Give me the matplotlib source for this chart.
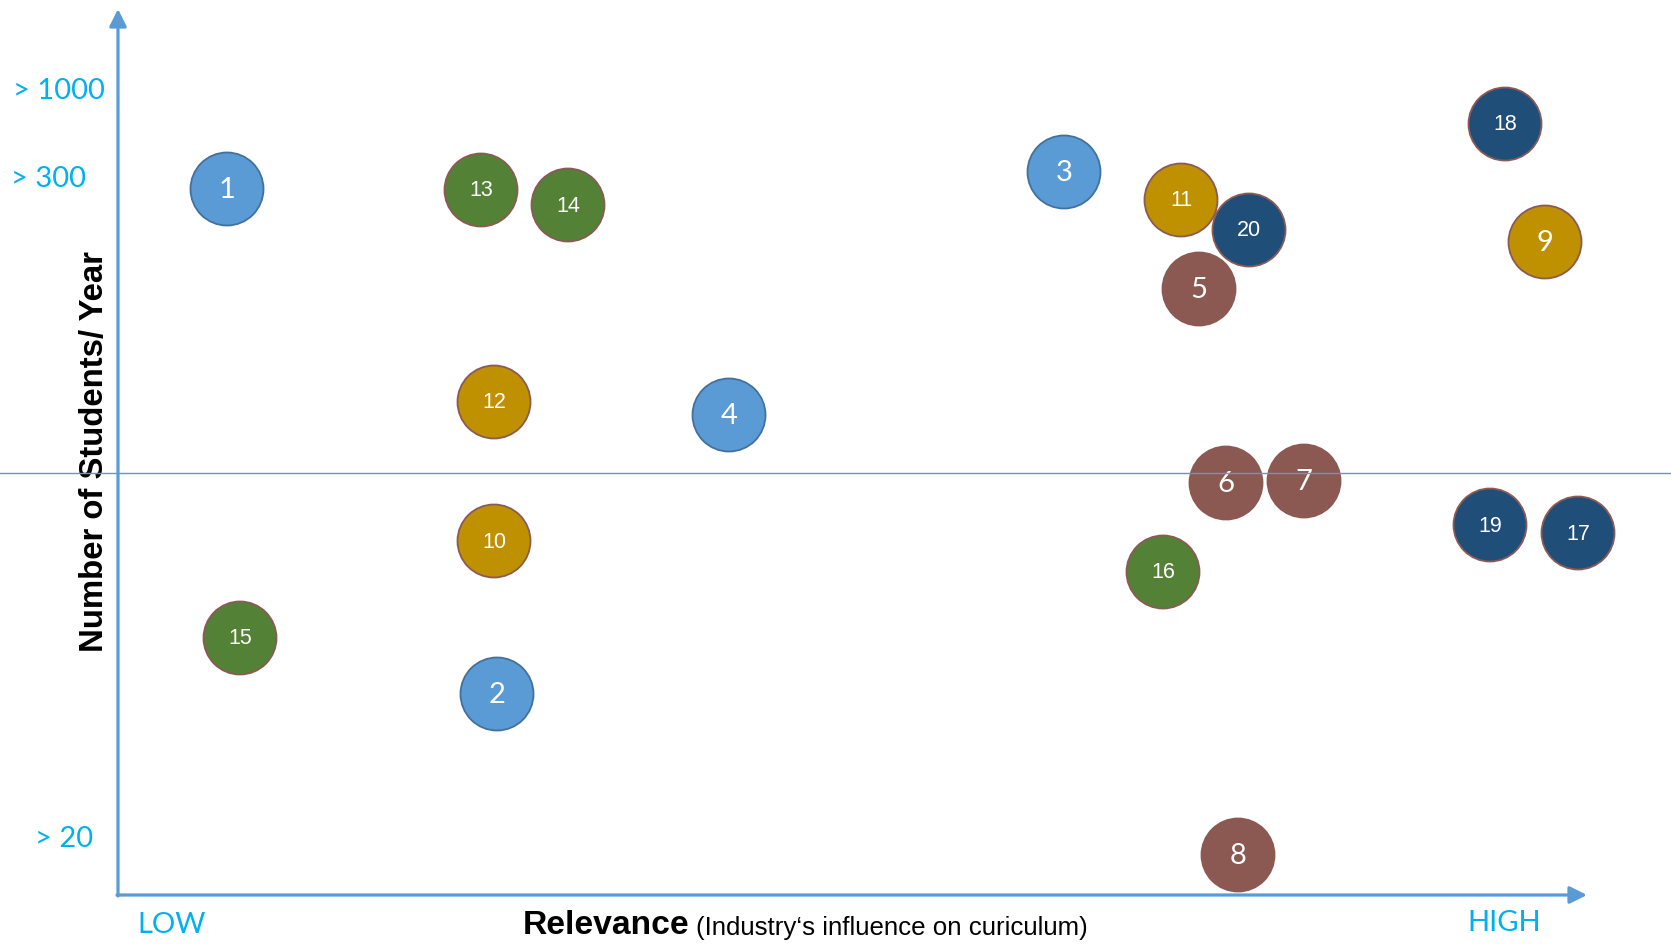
import matplotlib
import matplotlib.pyplot as plt
from matplotlib.patches import Circle

matplotlib.use("agg")

# bubble data (positions on the chart plane, 0..1671 x 0..944, y downwards)
ids = [1, 2, 3, 4, 5, 6, 7, 8, 9, 10, 11, 12, 13, 14, 15, 16, 17, 18, 19, 20]
relevance = [227, 497, 1064, 729, 1199, 1226, 1304, 1238, 1545, 494,
             1181, 494, 481, 568, 240, 1163, 1578, 1505, 1490, 1249]
students = [189, 694, 172, 415, 289, 483, 481, 855, 242, 541,
            200, 402, 190, 205, 638, 572, 533, 124, 525, 230]
groups = ["blue"] * 4 + ["brown"] * 4 + ["gold"] * 4 + ["green"] * 4 + ["navy"] * 4

fills = {"blue": "#5B9BD5", "brown": "#8B5852", "gold": "#BF9000",
         "green": "#538135", "navy": "#1F4E79"}
edges = {"blue": "#41719C", "brown": "#8B5852", "gold": "#8B5A55",
         "green": "#8B5A55", "navy": "#8B5A55"}

y_levels = ["> 1000", "> 300", "> 20"]
y_level_pos = [(13, 91), (11, 179), (35, 839)]
x_levels = ["LOW", "HIGH"]
x_level_pos = [(137, 925), (1467, 923)]

AXIS = "#5B9BD5"
CYAN = "#00B0F0"
RADIUS = 36.5

fig = plt.figure(figsize=(16.71, 9.44), dpi=100)
ax = fig.add_axes([0, 0, 1, 1])
ax.set_xlim(0, 1671)
ax.set_ylim(944, 0)
ax.set_aspect("equal")
ax.axis("off")

for n, x, y, g in zip(ids, relevance, students, groups):
    ax.add_patch(Circle((x, y), RADIUS, facecolor=fills[g], edgecolor=edges[g],
                        lw=1.3, zorder=3))
    if n < 10:
        ax.text(x, y + 1, str(n), color="white", fontsize=21, family="Lato",
                ha="center", va="center", zorder=4)
    else:
        ax.text(x, y + 1, str(n), color="white", fontsize=15.5,
                family="Liberation Sans", ha="center", va="center", zorder=4)

# axes with arrows
ax.annotate("", xy=(118, 9), xytext=(118, 896),
            arrowprops=dict(arrowstyle="-|>", color=AXIS, lw=2.3,
                            mutation_scale=26, shrinkA=0, shrinkB=0), zorder=5)
ax.annotate("", xy=(1587, 895), xytext=(117, 895),
            arrowprops=dict(arrowstyle="-|>", color=AXIS, lw=2.3,
                            mutation_scale=26, shrinkA=0, shrinkB=0), zorder=5)
ax.plot([0, 1671], [473, 473], color=AXIS, lw=1.0, zorder=5)

for label, (x, y) in zip(y_levels, y_level_pos):
    ax.text(x, y, label, color=CYAN, fontsize=21, family="Lato",
            ha="left", va="center")
for label, (x, y) in zip(x_levels, x_level_pos):
    ax.text(x, y, label, color=CYAN, fontsize=21, family="Lato",
            ha="left", va="center")

ax.text(95, 452, "Number of Students/ Year", rotation=90, fontsize=23.7,
        fontweight="bold", family="Liberation Sans", ha="center", va="center",
        zorder=4)
ax.text(523, 926, "Relevance", fontsize=24.2, fontweight="bold",
        family="Liberation Sans", ha="left", va="center")
ax.text(696, 928, "(Industry\u2018s influence on curiculum)", fontsize=18.6,
        family="Liberation Sans", ha="left", va="center")

fig.savefig("out.png", dpi=100)
